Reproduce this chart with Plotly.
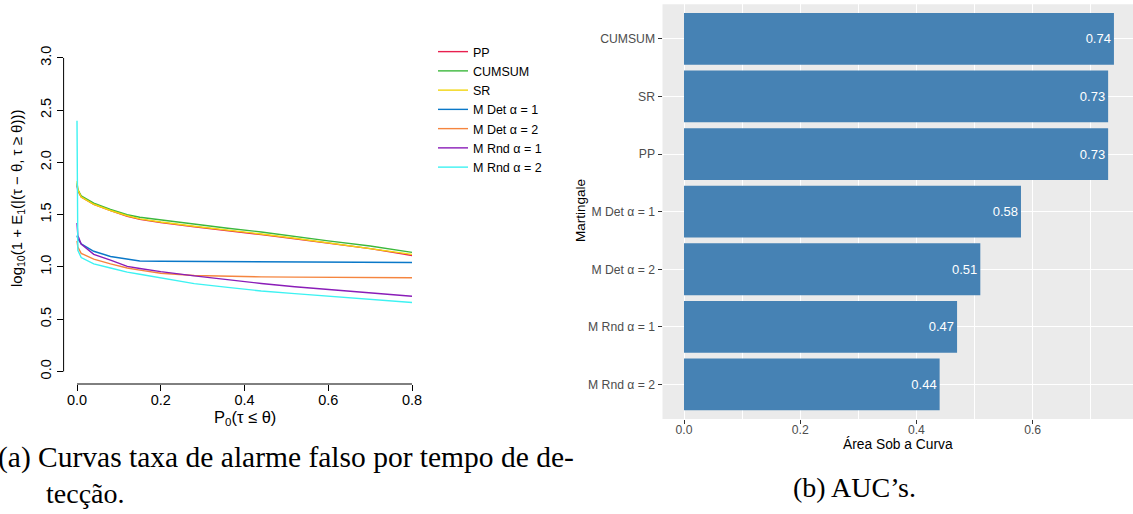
import plotly.graph_objects as go

# ---- (a) false-alarm rate vs. detection delay curves ----
p0 = [0.0, 0.002, 0.01, 0.04, 0.08, 0.12, 0.15, 0.2, 0.28, 0.36, 0.44, 0.52, 0.6, 0.7, 0.8]

curve_pp = [1.78, 1.73, 1.67, 1.60, 1.54, 1.485, 1.455, 1.425, 1.385, 1.35, 1.31, 1.27, 1.225, 1.175, 1.11]
curve_cumsum = [1.80, 1.74, 1.68, 1.61, 1.55, 1.50, 1.475, 1.45, 1.405, 1.37, 1.335, 1.29, 1.25, 1.20, 1.14]
curve_sr = [1.82, 1.74, 1.67, 1.60, 1.54, 1.49, 1.46, 1.43, 1.39, 1.355, 1.315, 1.275, 1.23, 1.18, 1.12]
curve_mdet1 = [1.30, 1.27, 1.22, 1.15, 1.10, 1.075, 1.057, 1.054, 1.052, 1.05, 1.05, 1.048, 1.046, 1.044, 1.042]
curve_mdet2 = [1.25, 1.19, 1.13, 1.075, 1.03, 0.99, 0.97, 0.94, 0.918, 0.908, 0.905, 0.903, 0.901, 0.899, 0.897]
curve_mrnd1 = [1.42, 1.30, 1.22, 1.12, 1.065, 1.005, 0.985, 0.955, 0.915, 0.875, 0.842, 0.81, 0.785, 0.75, 0.72]
curve_mrnd2 = [2.40, 1.16, 1.09, 1.03, 0.99, 0.95, 0.93, 0.893, 0.84, 0.805, 0.77, 0.745, 0.72, 0.69, 0.66]

series_names = ["PP", "CUMSUM", "SR", "M Det α = 1", "M Det α = 2", "M Rnd α = 1", "M Rnd α = 2"]
series_values = [curve_pp, curve_cumsum, curve_sr, curve_mdet1, curve_mdet2, curve_mrnd1, curve_mrnd2]
series_colors = ["#E8204F", "#3CB83C", "#F2D50F", "#0A78C8", "#F5853F", "#8A1DB8", "#3DF2F2"]

x_ticks = [0.0, 0.2, 0.4, 0.6, 0.8]
y_ticks = [0.0, 0.5, 1.0, 1.5, 2.0, 2.5, 3.0]

# ---- (b) area under the curve ----
auc_labels = ["CUMSUM", "SR", "PP", "M Det α = 1", "M Det α = 2", "M Rnd α = 1", "M Rnd α = 2"]
auc_values = [0.74, 0.73, 0.73, 0.58, 0.51, 0.47, 0.44]

W, H = 1133, 514
SANS = "Liberation Sans"
SERIF = "Liberation Serif"

fig = go.Figure()

for name, vals, col in zip(series_names, series_values, series_colors):
    fig.add_trace(go.Scatter(
        x=p0, y=vals, mode="lines", name=name,
        line=dict(color=col, width=1.4),
        xaxis="x", yaxis="y", hoverinfo="skip",
    ))

fig.add_trace(go.Bar(
    x=auc_values, y=auc_labels, orientation="h",
    marker=dict(color="#4682B4", line=dict(width=0)),
    width=0.9,
    text=[f"{v:.2f}" for v in auc_values],
    textposition="inside", insidetextanchor="end", textangle=0,
    insidetextfont=dict(color="white", size=13, family=SANS),
    xaxis="x2", yaxis="y2", showlegend=False, hoverinfo="skip",
))

left_dom_x = [63.6 / W, 425.4 / W]
left_dom_y = [1 - 384 / H, 1 - 45.4 / H]
right_dom_x = [662.5 / W, 1.0]
right_dom_y = [1 - 419 / H, 1 - 4.3 / H]

fig.update_layout(
    width=W, height=H, autosize=False,
    margin=dict(l=0, r=0, t=0, b=0),
    paper_bgcolor="white", plot_bgcolor="white",
    font=dict(family=SANS, color="black"),
    xaxis=dict(
        domain=left_dom_x, range=[-0.032, 0.832],
        tickmode="array", tickvals=x_ticks, ticktext=[f"{t:.1f}" for t in x_ticks],
        ticks="outside", ticklen=6, tickcolor="black", tickwidth=1,
        ticklabelstandoff=-3,
        showline=False, showgrid=False, zeroline=False,
        tickfont=dict(size=14.5, color="black"), anchor="y",
    ),
    yaxis=dict(
        domain=left_dom_y, range=[-0.12, 3.12],
        tickmode="array", tickvals=y_ticks, ticktext=[f"{t:.1f}" for t in y_ticks],
        ticks="outside", ticklen=6, tickcolor="black", tickwidth=1, tickangle=-90,
        showline=False, showgrid=False, zeroline=False,
        tickfont=dict(size=14.5, color="black"), anchor="x",
    ),
    xaxis2=dict(
        domain=right_dom_x, range=[-0.037, 0.7728],
        tickmode="linear", tick0=0, dtick=0.2, tickformat=".1f",
        ticks="outside", ticklen=4, tickcolor="#333333", tickwidth=1,
        ticklabelstandoff=-5,
        showline=False, zeroline=False,
        showgrid=True, gridcolor="white", gridwidth=1.3,
        minor=dict(dtick=0.1, tick0=0, showgrid=True, gridcolor="white", gridwidth=0.6),
        tickfont=dict(size=12.2, color="#4D4D4D"), anchor="y2",
    ),
    yaxis2=dict(
        domain=right_dom_y, range=[6.6, -0.6],
        type="category", categoryorder="array", categoryarray=auc_labels,
        ticks="outside", ticklen=4, tickcolor="#333333", tickwidth=1,
        showline=False, zeroline=False,
        showgrid=True, gridcolor="white", gridwidth=1.3,
        tickfont=dict(size=12.2, color="#4D4D4D"), anchor="x2",
    ),
    legend=dict(
        x=433 / W, y=1 - 37 / H, xanchor="left", yanchor="top",
        font=dict(size=12.5, color="black", family=SANS),
        bgcolor="rgba(0,0,0,0)", borderwidth=0, tracegroupgap=0,
    ),
    showlegend=True,
)

shapes = [
    # grey panel behind the bar chart
    dict(type="rect", xref="x2 domain", yref="y2 domain", x0=0, x1=1, y0=0, y1=1,
         fillcolor="#EBEBEB", line=dict(width=0), layer="below"),
    # base-graphics style axis lines spanning only the tick range
    dict(type="line", xref="x", yref="paper", x0=min(x_ticks), x1=max(x_ticks),
         y0=left_dom_y[0], y1=left_dom_y[0], line=dict(color="black", width=1)),
    dict(type="line", xref="paper", yref="y", x0=left_dom_x[0], x1=left_dom_x[0],
         y0=min(y_ticks), y1=max(y_ticks), line=dict(color="black", width=1)),
]
fig.update_layout(shapes=shapes)

annotations = [
    dict(text="log<sub>10</sub>(1 + E<sub>1</sub>(|(τ − θ, τ ≥ θ)))", x=18 / W, y=1 - 199 / H,
         xref="paper", yref="paper", textangle=-90, showarrow=False,
         font=dict(size=15, color="black", family=SANS), xanchor="center", yanchor="middle"),
    dict(text="P<sub>0</sub>(τ ≤ θ)", x=244.5 / W, y=1 - 418 / H,
         xref="paper", yref="paper", showarrow=False,
         font=dict(size=16.5, color="black", family=SANS), xanchor="center", yanchor="middle"),
    dict(text="Martingale", x=580 / W, y=1 - 211 / H,
         xref="paper", yref="paper", textangle=-90, showarrow=False,
         font=dict(size=13.5, color="black", family=SANS), xanchor="center", yanchor="middle"),
    dict(text="Área Sob a Curva", x=898 / W, y=1 - 444 / H,
         xref="paper", yref="paper", showarrow=False,
         font=dict(size=13.8, color="black", family=SANS), xanchor="center", yanchor="middle"),
    dict(text="(a) Curvas taxa de alarme falso por tempo de de-", x=0, y=1 - 457 / H,
         xref="paper", yref="paper", showarrow=False, xshift=-4,
         font=dict(size=29.5, color="black", family=SERIF), xanchor="left", yanchor="middle"),
    dict(text="tecção.", x=44 / W, y=1 - 493 / H,
         xref="paper", yref="paper", showarrow=False,
         font=dict(size=28, color="black", family=SERIF), xanchor="left", yanchor="middle"),
    dict(text="(b) AUC’s.", x=854 / W, y=1 - 487 / H,
         xref="paper", yref="paper", showarrow=False,
         font=dict(size=28, color="black", family=SERIF), xanchor="center", yanchor="middle"),
]
fig.update_layout(annotations=annotations)

fig.write_html("out.html")
